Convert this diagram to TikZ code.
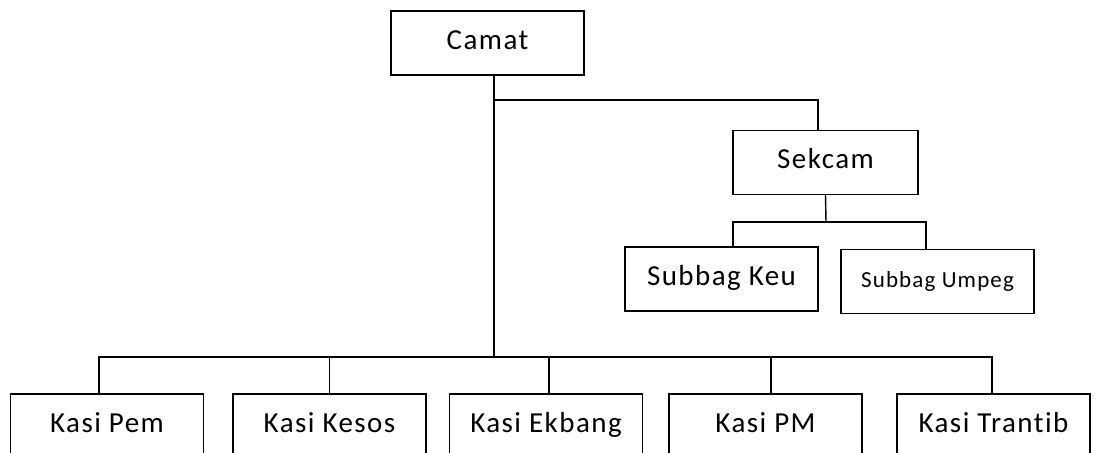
\documentclass[tikz,border=0pt]{standalone}
\usepackage{fontspec}
\setmainfont{Carlito}[LetterSpace=5, Ligatures=NoCommon]
\tikzset{
  unit/.style={draw, line width=0.7pt, minimum width=96.5pt, minimum height=32pt,
    inner sep=0pt, text height=9.5pt, text depth=3pt,
    font=\fontsize{14.5}{16}\selectfont},
  smallunit/.style={unit, font=\fontsize{11.5}{13}\selectfont},
}
\begin{document}
\begin{tikzpicture}[x=0.5pt, y=-0.5pt, line width=0.7pt]
        \useasboundingbox (0,0) rectangle (1096,453);
        \clip (0,0) rectangle (1096,453);

        % Camat and the secretariat
        \node[unit] (camat) at (487.5,43) {Camat};
        \node[unit, minimum width=92.5pt] (sekcam) at (825.5,162.5) {Sekcam};
        \node[unit] (keu) at (721.5,279) {Subbag Keu};
        \node[smallunit] (umpeg) at (937.5,281.5) {Subbag Umpeg};

        % Kasi row
        \node[unit] (pem) at (107,426) {Kasi Pem};
        \node[unit] (kesos) at (329.5,426) {Kasi Kesos};
        \node[unit] (ekbang) at (546,426) {Kasi Ekbang};
        \node[unit] (pm) at (765.5,426) {Kasi PM};
        \node[unit] (trantib) at (993.5,426) {Kasi Trantib};

        \coordinate (split) at (494,100);
        \coordinate (subsplit) at (826,222);
        \coordinate (bar) at (494,357);

        % Camat to Sekcam
        \draw ([xshift=3.25pt]camat.south) -- (split) -| ([xshift=-3.75pt]sekcam.north);
        \draw (sekcam.south) -- (subsplit);
        \draw ([xshift=5.75pt]keu.north) |- (subsplit) -| ([xshift=-5.75pt]umpeg.north);

        % Camat to the Kasi row
        \draw (split) -- (bar);
        \draw ([xshift=-4pt]pem.north) |- (bar) -| ([xshift=-0.75pt]trantib.north);
        \foreach \n/\dx in {kesos/0pt, ekbang/1.5pt, pm/2.75pt}
            \draw ([xshift=\dx]\n.north) -- ([xshift=\dx]\n.north |- bar);
\end{tikzpicture}
\end{document}
